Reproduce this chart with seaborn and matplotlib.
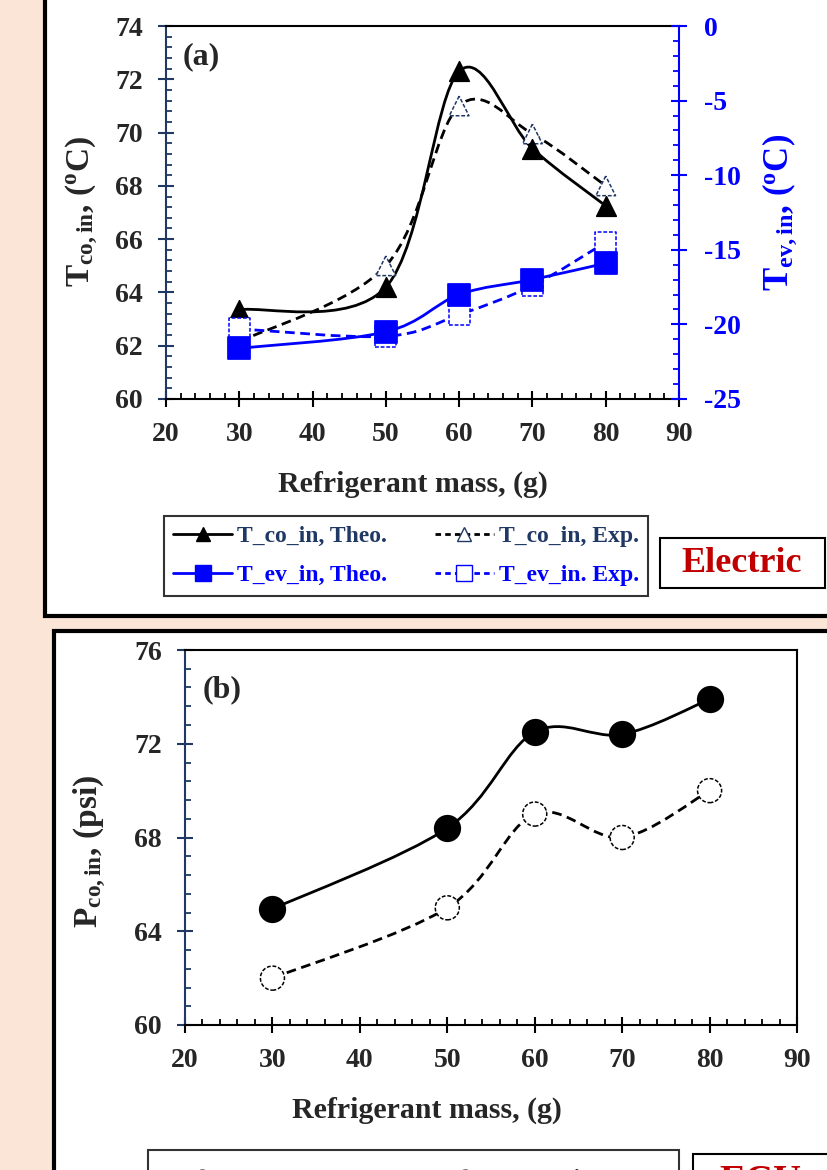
import numpy as np
import matplotlib.pyplot as plt
import seaborn as sns
from matplotlib.path import Path
from matplotlib.patches import PathPatch, Rectangle
from matplotlib.lines import Line2D
from matplotlib.ticker import MultipleLocator

# values
mass = [30, 50, 60, 70, 80]
tco_theo = [63.35, 64.2, 72.3, 69.4, 67.25]
tco_exp = [62.15, 65.0, 71.0, 69.95, 68.0]
tev_theo = [-21.6, -20.5, -18.0, -17.0, -15.9]
tev_exp = [-20.3, -20.8, -19.35, -17.4, -14.5]
pco_theo = [64.95, 68.4, 72.5, 72.4, 73.9]
pco_exp = [62.0, 65.0, 69.0, 68.0, 70.0]

legend_a = ["T_co_in, Theo.", "T_co_in, Exp.", "T_ev_in, Theo.", "T_ev_in. Exp."]
legend_b = ["P_co_in, Theo.", "P_co_in, Exp."]

NAVY = "#1F3864"
BLUE = "#0000FF"
RED = "#C00000"
BG = "#FBE5D6"

sns.set_style("white")
plt.rcParams["font.family"] = ["Liberation Serif", "DejaVu Serif"]
plt.rcParams["font.weight"] = "bold"
plt.rcParams["axes.unicode_minus"] = False
plt.rcParams["mathtext.fontset"] = "custom"
plt.rcParams["mathtext.rm"] = "Liberation Serif:bold"
plt.rcParams["mathtext.bf"] = "Liberation Serif:bold"
plt.rcParams["mathtext.it"] = "Liberation Serif:bold"


def smooth(x, y):
    # excel-like smoothed line: cubic bezier through the data points
    pts = np.column_stack([x, y]).astype(float)
    n = len(pts)
    verts, codes = [pts[0]], [Path.MOVETO]
    for i in range(n - 1):
        p0, p1 = pts[max(i - 1, 0)], pts[i]
        p2, p3 = pts[i + 1], pts[min(i + 2, n - 1)]
        verts += [p1 + (p2 - p0) / 6, p2 - (p3 - p1) / 6, p2]
        codes += [Path.CURVE4] * 3
    return Path(verts, codes)


def draw_line(ax, x, y, color, ls):
    ax.add_patch(PathPatch(smooth(x, y), facecolor="none", edgecolor=color,
                           lw=2, ls=ls, zorder=2))


def style_axis(ax, left_color, ymajor, yminor):
    ax.set_facecolor("white")
    for s in ["top", "bottom", "right"]:
        ax.spines[s].set_color("black")
        ax.spines[s].set_linewidth(1.5)
    ax.spines["left"].set_color(left_color)
    ax.spines["left"].set_linewidth(1.5)
    ax.xaxis.set_major_locator(MultipleLocator(10))
    ax.xaxis.set_minor_locator(MultipleLocator(2))
    ax.yaxis.set_major_locator(MultipleLocator(ymajor))
    ax.yaxis.set_minor_locator(MultipleLocator(yminor))
    ax.tick_params(which="major", direction="inout", length=11, width=1.5,
                   labelsize=20, pad=11)
    ax.tick_params(which="minor", direction="in", length=4.5, width=1.3)
    ax.tick_params(axis="y", which="both", color=left_color, left=True, right=False)
    ax.tick_params(axis="x", which="both", color="black", bottom=True, top=False)


fig = plt.figure(figsize=(8.28, 11.7), dpi=100)
fig.patch.set_facecolor(BG)

# white panels with heavy borders
fig.add_artist(Rectangle((45 / 828, 1 - 616 / 1170), 1.0, 0.6, transform=fig.transFigure,
                         facecolor="white", edgecolor="black", lw=3, zorder=-1))
fig.add_artist(Rectangle((54 / 828, -0.1), 1.0, 0.1 + 1 - 631 / 1170, transform=fig.transFigure,
                         facecolor="white", edgecolor="black", lw=3, zorder=-1))

# ---------------- panel (a) ----------------
ax = fig.add_axes([166 / 828, 1 - 399 / 1170, 513 / 828, 373 / 1170])
ax2 = ax.twinx()

draw_line(ax, mass, tco_exp, "black", (0, (3.5, 2)))
draw_line(ax, mass, tco_theo, "black", "-")
sns.scatterplot(x=mass, y=tco_exp, ax=ax, marker="^", s=200, color="white",
                edgecolor=NAVY, linewidth=1.1, linestyle=(0, (2.5, 1.2)), zorder=3)
sns.scatterplot(x=mass, y=tco_theo, ax=ax, marker="^", s=200, color="black",
                edgecolor="black", zorder=4)

draw_line(ax2, mass, tev_exp, BLUE, (0, (3.5, 2)))
draw_line(ax2, mass, tev_theo, BLUE, "-")
sns.scatterplot(x=mass, y=tev_exp, ax=ax2, marker="s", s=230, color="white",
                edgecolor=BLUE, linewidth=1.1, linestyle=(0, (2.5, 1.2)), zorder=3)
sns.scatterplot(x=mass, y=tev_theo, ax=ax2, marker="s", s=250, color=BLUE,
                edgecolor=BLUE, zorder=4)

ax.set_xlim(20, 90)
ax.set_ylim(60, 74)
ax2.set_ylim(-25, 0)
style_axis(ax, NAVY, 2, 0.4)
ax.spines["right"].set_visible(False)
for s in ["left", "top", "bottom"]:
    ax2.spines[s].set_visible(False)
ax2.spines["right"].set_color(BLUE)
ax2.spines["right"].set_linewidth(1.5)
ax2.yaxis.set_major_locator(MultipleLocator(5))
ax2.yaxis.set_minor_locator(MultipleLocator(1))
ax2.tick_params(which="major", direction="inout", length=11, width=1.5,
                labelsize=20, pad=12.5, color=BLUE, labelcolor=BLUE)
ax2.tick_params(which="minor", direction="in", length=4.5, width=1.3, color=BLUE)
ax2.grid(False)
ax.grid(False)

ax.set_xlabel("Refrigerant mass, (g)", fontsize=21.5, fontweight="bold")
ax.xaxis.label.set_va("center")
ax.xaxis.set_label_coords(0.481, -0.23)
ax.set_ylabel(r"$\mathrm{T_{co,in}}$, ($\mathrm{^o}$C)", fontsize=24, fontweight="bold")
ax.yaxis.label.set_va("center")
ax.yaxis.set_label_coords(-0.164, 0.504)
ax2.set_ylabel(r"$\mathrm{T_{ev,in}}$, ($\mathrm{^o}$C)", fontsize=25,
               fontweight="bold", color=BLUE)
ax2.yaxis.label.set_va("center")
ax2.yaxis.set_label_coords(1.195, 0.50)
ax.text(0.033, 0.917, "(a)", transform=ax.transAxes, fontsize=23,
        fontweight="bold", va="center", ha="left")

handles_a = [
    Line2D([], [], color="black", lw=2, marker="^", ms=10, mfc="black", mec="black"),
    Line2D([], [], color="black", lw=2, ls=(0, (2, 1.5)), marker="^", ms=10,
           mfc="white", mec=NAVY, mew=1),
    Line2D([], [], color=BLUE, lw=2, marker="s", ms=12, mfc=BLUE, mec=BLUE),
    Line2D([], [], color=BLUE, lw=2, ls=(0, (2, 1.5)), marker="s", ms=11,
           mfc="white", mec=BLUE, mew=1),
]
# order so that ncol=2 fills rows: (co theo, co exp) / (ev theo, ev exp)
order = [0, 2, 1, 3]
leg = fig.legend([handles_a[i] for i in order], [legend_a[i] for i in order],
                 loc="center", bbox_to_anchor=(406 / 828, 1 - 556 / 1170), ncol=2,
                 fontsize=17, frameon=True, fancybox=False, edgecolor="black",
                 handlelength=2.5, handletextpad=0.21, columnspacing=2.0,
                 labelspacing=0.75, borderpad=0.4)
leg.get_frame().set_linewidth(1.5)
for t, c in zip(leg.get_texts(), [NAVY, BLUE, NAVY, BLUE]):
    t.set_color(c)

fig.add_artist(Rectangle((660 / 828, 1 - 588 / 1170), 165 / 828, 50 / 1170,
                         transform=fig.transFigure, facecolor="white",
                         edgecolor="black", lw=1.5))
fig.text(742 / 828, 1 - 563 / 1170, "Electric", color=RED, fontsize=26,
         fontweight="bold", ha="center", va="center")

# ---------------- panel (b) ----------------
bx = fig.add_axes([185 / 828, 1 - 1025 / 1170, 612 / 828, 375 / 1170])
draw_line(bx, mass, pco_exp, "black", (0, (3.5, 2)))
draw_line(bx, mass, pco_theo, "black", "-")
sns.scatterplot(x=mass, y=pco_exp, ax=bx, marker="o", s=300, color="white",
                edgecolor="black", linewidth=1.1, linestyle=(0, (2.5, 1.2)), zorder=3)
sns.scatterplot(x=mass, y=pco_theo, ax=bx, marker="o", s=330, color="black",
                edgecolor="black", zorder=4)
bx.set_xlim(20, 90)
bx.set_ylim(60, 76)
style_axis(bx, NAVY, 4, 0.8)
bx.grid(False)
bx.set_xlabel("Refrigerant mass, (g)", fontsize=21.5, fontweight="bold")
bx.xaxis.label.set_va("center")
bx.xaxis.set_label_coords(0.395, -0.227)
bx.set_ylabel(r"$\mathrm{P_{co,in}}$, (psi)", fontsize=24, fontweight="bold")
bx.yaxis.label.set_va("center")
bx.yaxis.set_label_coords(-0.155, 0.464)
bx.text(0.028, 0.893, "(b)", transform=bx.transAxes, fontsize=23,
        fontweight="bold", va="center", ha="left")

handles_b = [
    Line2D([], [], color="black", lw=2, marker="o", ms=12, mfc="black", mec="black"),
    Line2D([], [], color="black", lw=2, ls=(0, (2, 1.5)), marker="o", ms=12,
           mfc="white", mec="black", mew=1),
]
legb = fig.legend(handles_b, legend_b, loc="upper left",
                  bbox_to_anchor=(148 / 828, 1 - 1150 / 1170), borderaxespad=0,
                  ncol=2, fontsize=19, frameon=True, fancybox=False,
                  edgecolor="black", handlelength=2.7, handletextpad=0.2,
                  columnspacing=0.8, borderpad=0.7)
legb.get_frame().set_linewidth(1.5)

fig.add_artist(Rectangle((693 / 828, -0.05), 0.2, 0.05 + 1 - 1154 / 1170,
                         transform=fig.transFigure, facecolor="white",
                         edgecolor="black", lw=1.5))
fig.text(760 / 828, 1 - 1164 / 1170, "ECU", color=RED, fontsize=28,
         fontweight="bold", ha="center", va="top")

fig.savefig("out.png", dpi=100, facecolor=BG)
